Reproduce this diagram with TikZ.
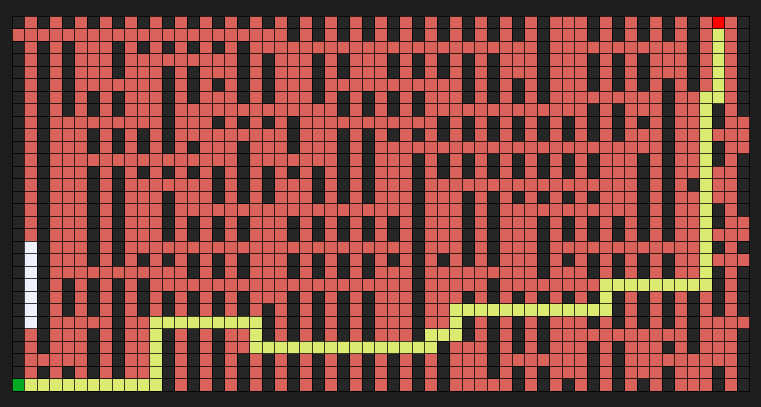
\documentclass[tikz,border=0pt]{standalone}
\usetikzlibrary{positioning}
\definecolor{panelbg}{HTML}{1E1E1E}
\definecolor{wallgray}{HTML}{262626}
\definecolor{visitred}{HTML}{D9635A}
\definecolor{routeyellow}{HTML}{DDEA72}
\definecolor{queuewhite}{HTML}{EEF0FC}
\definecolor{startgreen}{HTML}{00AA22}
\definecolor{goalred}{HTML}{FF0000}

\begin{document}
\begin{tikzpicture}[x=12.5pt, y=-12.5pt,
    wall/.style={fill=wallgray},
    route/.style={fill=routeyellow},
    cellbox/.style={rectangle, inner sep=0pt, minimum size=12.5pt},
    gridline/.style={draw=black, line width=0.7pt, opacity=0.75}
]

\fill[panelbg] (-0.96,-1.28) rectangle (59.92,31.28);
\fill[visitred] (0,0) rectangle (59,30);

% walls, column by column (odd columns are all open)
\foreach \c/\rows in {
    0/{0,2,3,...,28},
    2/{0,2,3,...,26,28},
    4/{0,2,3,...,7,21,22,23,28},
    6/{0,6,7,9,10,12,13,...,19,21,22,23,25,26,27,28},
    8/{0,2,3,4,6,7,9,10,12,13,...,19,21,22,...,28},
    10/{0,2,9,10,12,19,21,22,23},
    12/{0,2,4,5,...,10,12,14,15,16,17,19,22,23,25,26,...,29},
    14/{0,2,4,5,6,10,12,16,17,19,20,22,23,25,26,...,29},
    16/{0,2,5,8,12,13,14,16,17,19,20,22,23,25,26,...,29},
    18/{0,2,3,...,6,8,10,11,...,14,16,17,19,20,22,23,27,28,29},
    20/{0,3,4,5,6,8,12,13,14,23,24,25,27,28,29},
    22/{0,1,8,9,10,12,16,17,19,20,22,23,24,25,27,28,29},
    24/{0,1,3,4,5,6,12,13,14,16,17,19,20,22,23,24,25,27,28,29},
    26/{0,1,3,4,6,7,9,10,...,14,16,17,19,20,22,23,24,25,27,28,29},
    28/{0,1,6,7,9,10,...,14,16,17,19,20,22,23,24,25,27,28,29},
    30/{0,1,3,4,6,7,9,16,17,19,27,28,29},
    32/{0,1,3,4,6,7,9,11,12,...,25,27,28,29},
    34/{0,1,3,4,8,9,11,12,19,26,27,28,29},
    36/{0,1,3,4,5,6,8,9,11,12,14,15,...,19,22,24,25},
    38/{0,1,3,4,5,6,8,9,11,12,14,15,...,19,21,22,24,25,...,28},
    40/{0,1,5,6,8,9,11,12,14,22,24,25,26,28,29},
    42/{0,1,...,6,8,9,11,12,14,16,17,...,20,22,24,25,26,28,29},
    44/{8,9,11,12,14,16,17,19,22,29},
    46/{0,1,3,4,5,7,8,9,11,12,14,16,17,19,20,22,24,26,27,28,29},
    48/{0,1,3,4,5,7,8,9,16,17,19,20,22,23,24,26,27,28,29},
    50/{0,1,3,4,5,8,11,12,...,17,19,20,22,23,24,29},
    52/{0,1,5,6,...,17,19,20,22,23,24,26,28,29},
    54/{0,1,...,5,13,22,23,...,26},
    56/{7,8,10,11,15,16,18,20,21,22,23,28,29},
    58/{0,1,...,7,11,12,...,15,18,20,21,22,23,25,26,...,29}} {
  \foreach \r in \rows
    \fill[wall] (\c,\r) rectangle ++(1,1);
}

% cells still waiting in the queue
\fill[queuewhite] (1,18) rectangle (2,25);

% the route found, run by run
\foreach \a/\b/\p/\q in {1/29/12/30, 11/24/12/29, 11/24/20/25, 19/25/20/27,
    19/26/34/27, 33/25/36/26, 35/23/36/25, 35/23/48/24, 47/21/48/23,
    47/21/56/22, 55/6/56/22, 55/6/57/7, 56/1/57/7}
  \fill[route] (\a,\b) rectangle (\p,\q);

\node[cellbox, fill=startgreen] (start) at (0.5,29.5) {};
\node[cellbox, fill=goalred] (goal) at (56.5,0.5) {};

% cell borders
\foreach \c in {0,...,59}
  \draw[gridline] (\c,0) -- (\c,30);
\foreach \r in {0,...,30}
  \draw[gridline] (0,\r) -- (59,\r);

\end{tikzpicture}
\end{document}
